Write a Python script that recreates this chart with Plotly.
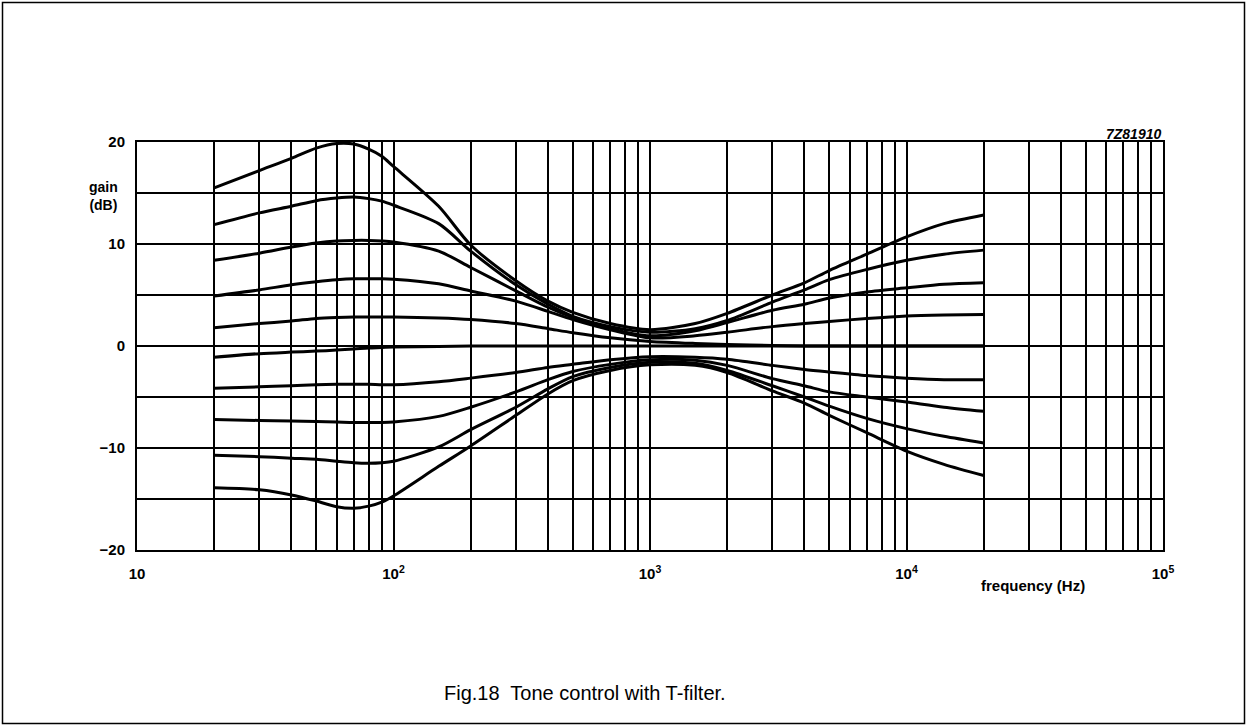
import plotly.graph_objects as go

# ---------------- data ----------------
freq = [20, 30, 40, 50, 60, 70, 80, 90, 100, 150, 200, 300, 400, 500, 700,
        1000, 1500, 2000, 3000, 4000, 5000, 7000, 10000, 14000, 20000]

gain_b1 = [15.5, 17.2, 18.4, 19.4, 19.85, 19.8, 19.3, 18.6, 17.6, 13.7, 9.9, 6.4, 4.4, 3.3, 2.2,
           1.6, 2.2, 3.2, 5.0, 6.2, 7.4, 9.0, 10.7, 12.0, 12.85]
gain_b2 = [11.9, 13.05, 13.7, 14.25, 14.5, 14.6, 14.45, 14.2, 13.8, 12.0, 9.3, 6.0, 4.1, 2.9, 1.9,
           1.35, 1.7, 2.5, 4.3, 5.5, 6.5, 7.5, 8.4, 9.0, 9.4]
gain_b3 = [8.4, 9.1, 9.7, 10.1, 10.3, 10.35, 10.35, 10.3, 10.2, 9.3, 7.7, 5.4, 3.8, 2.8, 1.7,
           1.0, 1.5, 2.3, 3.5, 4.1, 4.7, 5.3, 5.7, 6.05, 6.2]
gain_b4 = [4.9, 5.5, 6.0, 6.3, 6.5, 6.6, 6.6, 6.6, 6.55, 6.1, 5.4, 4.4, 3.4, 2.6, 1.6,
           0.8, 1.0, 1.35, 1.9, 2.2, 2.4, 2.7, 2.95, 3.05, 3.1]
gain_b5 = [1.8, 2.2, 2.45, 2.7, 2.8, 2.85, 2.85, 2.85, 2.85, 2.75, 2.6, 2.2, 1.7, 1.3, 0.8,
           0.45, 0.25, 0.15, 0.05, 0.0, 0.0, 0.0, 0.0, 0.0, 0.0]
gain_m = [-1.1, -0.75, -0.6, -0.5, -0.4, -0.3, -0.2, -0.15, -0.1, -0.05, 0.0, 0.0, 0.0, 0.0, 0.0,
          0.0, 0.0, 0.0, 0.0, 0.0, 0.0, 0.0, 0.0, 0.0, 0.0]
gain_c4 = [-4.15, -4.0, -3.9, -3.8, -3.75, -3.75, -3.75, -3.8, -3.8, -3.5, -3.15, -2.6, -2.1, -1.8, -1.35,
           -1.05, -1.1, -1.3, -1.9, -2.3, -2.55, -2.9, -3.15, -3.3, -3.3]
gain_c3 = [-7.2, -7.3, -7.35, -7.4, -7.45, -7.5, -7.5, -7.5, -7.45, -6.9, -6.0, -4.5, -3.3, -2.5, -1.8,
           -1.35, -1.4, -1.9, -3.2, -3.9, -4.5, -5.0, -5.5, -6.0, -6.4]
gain_c2 = [-10.7, -10.85, -11.0, -11.1, -11.3, -11.45, -11.5, -11.45, -11.3, -9.9, -8.2, -6.0, -4.2, -3.0, -2.1,
           -1.6, -1.7, -2.4, -3.9, -5.0, -5.9, -7.1, -8.1, -8.85, -9.5]
gain_c1 = [-13.9, -14.1, -14.6, -15.2, -15.75, -15.9, -15.7, -15.3, -14.7, -11.8, -9.8, -6.8, -4.7, -3.4, -2.4,
           -1.85, -1.9, -2.6, -4.4, -5.6, -6.8, -8.5, -10.3, -11.6, -12.7]

curves = [gain_b1, gain_b2, gain_b3, gain_b4, gain_b5, gain_m,
          gain_c4, gain_c3, gain_c2, gain_c1]

x_major = [10, 100, 1000, 10000, 100000]
x_major_text = ["10", "10<sup>2</sup>", "10<sup>3</sup>", "10<sup>4</sup>", "10<sup>5</sup>"]
x_minor = [m * d for d in [10, 100, 1000, 10000] for m in range(2, 10)]
y_major = [-20, -10, 0, 10, 20]
y_major_text = ["\u221220", "\u221210", "0", "10", "20"]
y_minor = [-15, -5, 5, 15]

caption = "Fig.18  Tone control with T-filter."

# ---------------- figure ----------------
FONT = "Liberation Sans, Arial, Helvetica, sans-serif"
fig = go.Figure()
for g in curves:
    fig.add_trace(go.Scatter(
        x=freq, y=g, mode="lines",
        line=dict(color="black", width=3, shape="spline", smoothing=0.8),
        showlegend=False, hoverinfo="skip"))

grid_w = 1.7
fig.update_layout(
    width=1247, height=726,
    margin=dict(l=137, r=84, t=142, b=176),
    paper_bgcolor="white", plot_bgcolor="white",
    font=dict(family=FONT, color="black"),
    xaxis=dict(
        type="log", range=[1, 5],
        tickmode="array", tickvals=x_major, ticktext=x_major_text,
        ticks="", ticklabelstandoff=9,
        tickfont=dict(family=FONT, size=15, weight="bold", color="black"),
        showgrid=True, gridcolor="black", gridwidth=grid_w,
        minor=dict(tickmode="array", tickvals=x_minor, showgrid=True,
                   gridcolor="black", gridwidth=grid_w, ticks=""),
        showline=True, linecolor="black", linewidth=2, mirror=True,
        zeroline=False, fixedrange=True,
    ),
    yaxis=dict(
        range=[-20, 20],
        tickmode="array", tickvals=y_major, ticktext=y_major_text,
        ticks="", ticklabelstandoff=7,
        tickfont=dict(family=FONT, size=15, weight="bold", color="black"),
        showgrid=True, gridcolor="black", gridwidth=grid_w,
        minor=dict(tickmode="array", tickvals=y_minor, showgrid=True,
                   gridcolor="black", gridwidth=grid_w, ticks=""),
        showline=True, linecolor="black", linewidth=2, mirror=True,
        zeroline=False, fixedrange=True,
    ),
)

def px_x(p):
    return (p - 137) / 1026.0

def px_y(p):
    return (550 - p) / 408.0

# outer frame of the figure
fig.add_shape(type="rect", xref="paper", yref="paper",
              x0=px_x(2.5), x1=px_x(1244.5), y0=px_y(723.5), y1=px_y(2.5),
              line=dict(color="black", width=1.5), fillcolor="rgba(0,0,0,0)")

fig.add_annotation(text="gain<br>(dB)", xref="paper", yref="paper",
                   x=px_x(103), y=px_y(196), xanchor="center", yanchor="middle",
                   showarrow=False, align="center",
                   font=dict(family=FONT, size=14, weight="bold", color="black"))
fig.add_annotation(text="frequency (Hz)", xref="paper", yref="paper",
                   x=px_x(1033), y=px_y(585), xanchor="center", yanchor="middle",
                   showarrow=False,
                   font=dict(family=FONT, size=15, weight="bold", color="black"))
fig.add_annotation(text="7Z81910", xref="paper", yref="paper",
                   x=1.0, y=px_y(134), xanchor="right", yanchor="middle",
                   showarrow=False,
                   font=dict(family=FONT, size=14, weight="bold", style="italic", color="black"))
fig.add_annotation(text=caption, xref="paper", yref="paper",
                   x=px_x(585), y=px_y(693), xanchor="center", yanchor="middle",
                   showarrow=False,
                   font=dict(family=FONT, size=20, color="black"))

fig.write_html("out.html")
